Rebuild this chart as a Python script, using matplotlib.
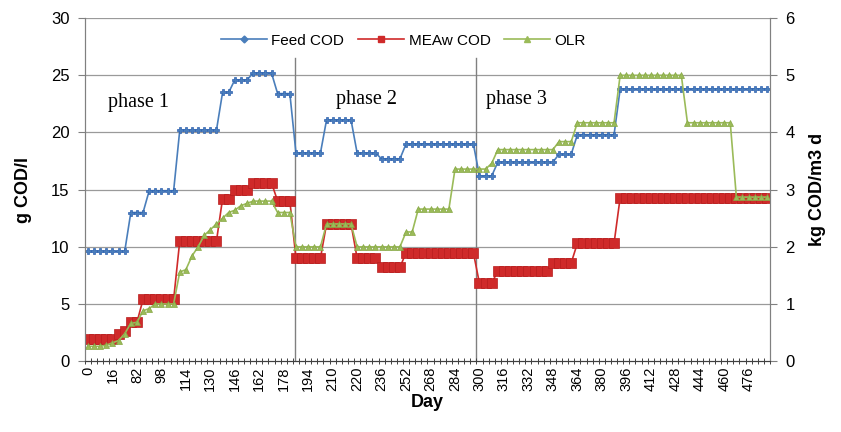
import numpy as np
import matplotlib.pyplot as plt
from matplotlib.lines import Line2D

# day labels shown on the category axis (every 4th sample)
day_labels = [0, 16, 82, 98, 114, 130, 146, 162, 178, 194, 210, 220, 236, 252,
              268, 284, 300, 316, 332, 348, 364, 380, 396, 412, 428, 444, 460, 476]

# Feed COD, g COD/l (one value per sample)
feed_p1 = [9.6, 9.6, 9.6, 9.6, 9.6, 9.6, 9.6, 13.0, 13.0, 13.0,
           14.9, 14.9, 14.9, 14.9, 14.9, 20.2, 20.2, 20.2, 20.2, 20.2,
           20.2, 20.2, 23.5, 23.5, 24.6, 24.6, 24.6, 25.2, 25.2, 25.2,
           25.2, 23.4, 23.4, 23.4]
feed_p2 = [18.2, 18.2, 18.2, 18.2, 18.2, 21.1, 21.1, 21.1, 21.1, 21.1,
           18.2, 18.2, 18.2, 18.2, 17.7, 17.7, 17.7, 17.7, 19.0, 19.0,
           19.0, 19.0, 19.0, 19.0, 19.0, 19.0, 19.0, 19.0, 19.0, 19.0]
feed_p3 = [16.2, 16.2, 16.2, 17.4, 17.4, 17.4, 17.4, 17.4, 17.4, 17.4,
           17.4, 17.4, 17.4, 18.1, 18.1, 18.1, 19.8, 19.8, 19.8, 19.8,
           19.8, 19.8, 19.8, 23.8, 23.8, 23.8, 23.8, 23.8, 23.8, 23.8,
           23.8, 23.8, 23.8, 23.8, 23.8, 23.8, 23.8, 23.8, 23.8, 23.8,
           23.8, 23.8, 23.8, 23.8, 23.8, 23.8, 23.8, 23.8]

# MEAw COD, g COD/l
meaw_p1 = [1.9, 1.9, 1.9, 1.9, 1.9, 2.4, 2.6, 3.4, 3.4, 5.4,
           5.4, 5.4, 5.4, 5.4, 5.4, 10.5, 10.5, 10.5, 10.5, 10.5,
           10.5, 10.5, 14.2, 14.2, 15.0, 15.0, 15.0, 15.6, 15.6, 15.6,
           15.6, 14.0, 14.0, 14.0]
meaw_p2 = [9.0, 9.0, 9.0, 9.0, 9.0, 12.0, 12.0, 12.0, 12.0, 12.0,
           9.0, 9.0, 9.0, 9.0, 8.2, 8.2, 8.2, 8.2, 9.5, 9.5,
           9.5, 9.5, 9.5, 9.5, 9.5, 9.5, 9.5, 9.5, 9.5, 9.5]
meaw_p3 = [6.8, 6.8, 6.8, 7.9, 7.9, 7.9, 7.9, 7.9, 7.9, 7.9,
           7.9, 7.9, 8.6, 8.6, 8.6, 8.6, 10.3, 10.3, 10.3, 10.3,
           10.3, 10.3, 10.3, 14.3, 14.3, 14.3, 14.3, 14.3, 14.3, 14.3,
           14.3, 14.3, 14.3, 14.3, 14.3, 14.3, 14.3, 14.3, 14.3, 14.3,
           14.3, 14.3, 14.3, 14.3, 14.3, 14.3, 14.3, 14.3]

# OLR, kg COD/m3 d (right axis)
olr_p1 = [0.26, 0.26, 0.26, 0.28, 0.32, 0.36, 0.48, 0.66, 0.68, 0.88,
          0.92, 1.0, 1.0, 1.0, 1.0, 1.56, 1.6, 1.84, 2.0, 2.2,
          2.3, 2.4, 2.5, 2.6, 2.64, 2.72, 2.76, 2.8, 2.8, 2.8,
          2.8, 2.6, 2.6, 2.6]
olr_p2 = [2.0, 2.0, 2.0, 2.0, 2.0, 2.4, 2.4, 2.4, 2.4, 2.4,
          2.0, 2.0, 2.0, 2.0, 2.0, 2.0, 2.0, 2.0, 2.26, 2.26,
          2.66, 2.66, 2.66, 2.66, 2.66, 2.66, 3.36, 3.36, 3.36, 3.36]
olr_p3 = [3.36, 3.36, 3.46, 3.7, 3.7, 3.7, 3.7, 3.7, 3.7, 3.7,
          3.7, 3.7, 3.7, 3.84, 3.84, 3.84, 4.17, 4.17, 4.17, 4.17,
          4.17, 4.17, 4.17, 5.0, 5.0, 5.0, 5.0, 5.0, 5.0, 5.0,
          5.0, 5.0, 5.0, 5.0, 4.17, 4.17, 4.17, 4.17, 4.17, 4.17,
          4.17, 4.17, 2.87, 2.87, 2.87, 2.87, 2.87, 2.87]

phase_names = ["phase 1", "phase 2", "phase 3"]


def main():
    plt.rcParams['font.family'] = ['Liberation Sans', 'DejaVu Sans']

    feed = feed_p1 + feed_p2 + feed_p3
    meaw = meaw_p1 + meaw_p2 + meaw_p3
    olr = olr_p1 + olr_p2 + olr_p3
    n = len(feed)
    x = np.arange(n)

    c_feed, c_meaw, c_olr = '#4a7ebb', '#cf2a2a', '#9bbb59'

    fig, ax = plt.subplots(figsize=(8.41, 4.32), dpi=100)
    fig.subplots_adjust(left=0.101, right=0.9156, top=0.958, bottom=0.164)
    ax2 = ax.twinx()

    ax.plot(x, feed, color=c_feed, lw=1.2, marker='P', markersize=4.5,
            markeredgecolor='#2f62b0', markerfacecolor=c_feed, markeredgewidth=0.5)
    ax.plot(x, meaw, color=c_meaw, lw=1.2, marker='s', markersize=6.5,
            markeredgecolor='#b81e1e', markerfacecolor=c_meaw, markeredgewidth=0.5)
    ax2.plot(x, olr, color=c_olr, lw=1.2, marker='^', markersize=4.5,
             markeredgecolor='#86a844', markerfacecolor=c_olr, markeredgewidth=0.5)

    ax.set_xlim(-0.5, n - 0.5)
    ax.set_ylim(0, 30)
    ax2.set_ylim(0, 6)
    ax.set_yticks(range(0, 31, 5))
    ax2.set_yticks(range(0, 7))

    for y in range(5, 31, 5):
        ax.axhline(y, color='#9a9a9a', lw=0.9, zorder=0)

    # phase boundaries
    n1 = len(feed_p1)
    n2 = n1 + len(feed_p2)
    for xb in [n1 - 0.2, n2 - 0.6]:
        ax.plot([xb, xb], [0, 26.5], color='#808080', lw=1.0, zorder=1)

    ax.text(3.3, 22.2, phase_names[0], fontsize=14.5, family='Liberation Serif')
    ax.text(40.5, 22.5, phase_names[1], fontsize=14.5, family='Liberation Serif')
    ax.text(65.0, 22.5, phase_names[2], fontsize=14.5, family='Liberation Serif')

    # category axis ticks
    label_pos = np.arange(0, 4 * len(day_labels), 4)
    ax.set_xticks(label_pos)
    ax.set_xticklabels([str(d) for d in day_labels], rotation=90, fontsize=10.5)
    ax.tick_params(axis='x', which='major', length=0, pad=4)
    ax.set_xticks(np.arange(-0.5, n, 1), minor=True)
    ax.tick_params(axis='x', which='minor', length=5, direction='inout',
                   width=0.7, color='#404040')

    ax.tick_params(axis='y', length=5, direction='out', color='#808080',
                   labelsize=12, pad=6)
    ax2.tick_params(axis='y', length=5, direction='out', color='#808080',
                    labelsize=12, pad=6)

    for a in (ax, ax2):
        a.spines['top'].set_visible(False)
        a.spines['left'].set_color('#808080')
        a.spines['right'].set_color('#808080')
        a.spines['bottom'].set_color('#404040')

    ax.set_ylabel('g COD/l', fontsize=13, fontweight='bold', labelpad=14)
    ax2.set_ylabel('kg COD/m3 d', fontsize=13, fontweight='bold', labelpad=10)
    ax.set_xlabel('Day', fontsize=13, fontweight='bold', labelpad=2)

    handles = [
        Line2D([], [], color=c_feed, lw=1.2, marker='D', markersize=3.5),
        Line2D([], [], color=c_meaw, lw=1.2, marker='s', markersize=5),
        Line2D([], [], color=c_olr, lw=1.2, marker='^', markersize=4.5),
    ]
    ax2.legend(handles, ['Feed COD', 'MEAw COD', 'OLR'], loc='upper center',
               bbox_to_anchor=(0.465, 0.995), ncol=3, frameon=False,
               fontsize=11, handlelength=3.0, columnspacing=0.9,
               handletextpad=0.3)

    fig.savefig('out.png', dpi=100)


if __name__ == "__main__":
    main()
